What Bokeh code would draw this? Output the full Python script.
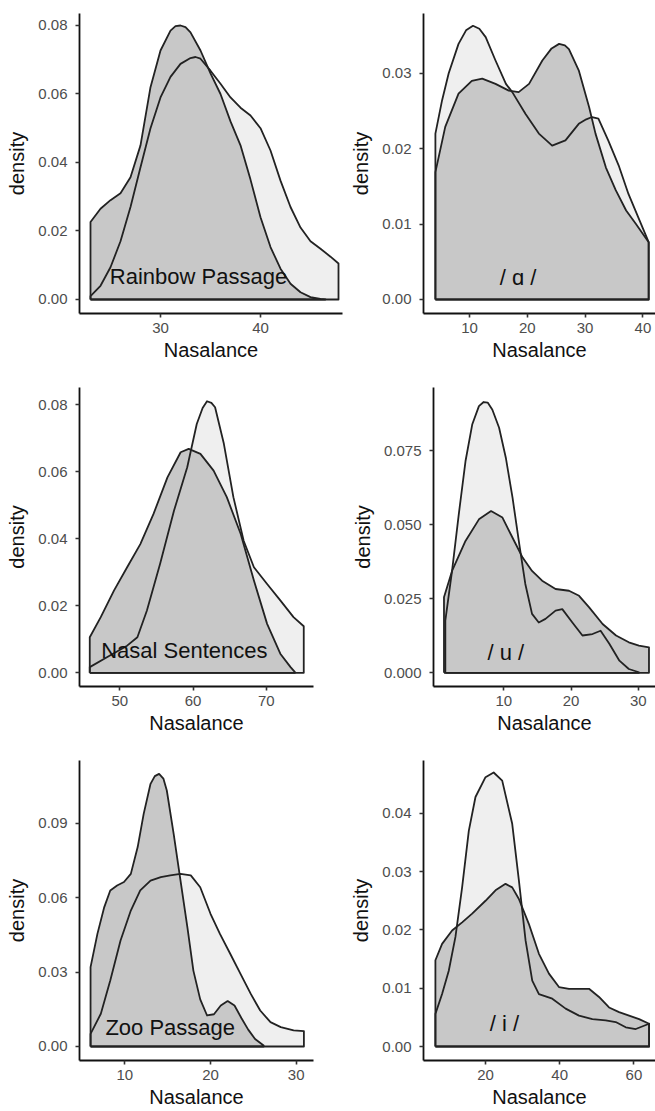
from bokeh.plotting import figure
from bokeh.models import Range1d, FixedTicker, PrintfTickFormatter, ColumnDataSource
from bokeh.layouts import column, row
from bokeh.embed import file_html
from bokeh.resources import INLINE
from bokeh.core.properties import value

FONT = "Liberation Sans"
LIGHT = "#efefef"
DARK = "#c8c8c8"
EDGE = "#222222"

# ---------------- data ----------------
# Rainbow Passage
rainbow_light_x = [23, 24, 25, 26, 27, 28, 29, 30, 31, 32, 33, 33.5, 34, 35, 36, 37, 38, 39, 40, 41, 42, 43, 44, 45, 46, 47, 47.8]
rainbow_light_y = [0.001, 0.004, 0.0094, 0.017, 0.027, 0.0386, 0.050, 0.059, 0.065, 0.0688, 0.0705, 0.0708, 0.0703, 0.0668, 0.063,
                   0.059, 0.056, 0.0537, 0.050, 0.0435, 0.0347, 0.027, 0.021, 0.017, 0.0148, 0.0125, 0.0105]
rainbow_dark_x = [23, 24, 25, 26, 27, 28, 29, 30, 31, 31.5, 32, 32.5, 33, 34, 35, 36, 37, 38, 39, 40, 41, 42, 43, 44, 45, 46, 46.5]
rainbow_dark_y = [0.0226, 0.0265, 0.029, 0.031, 0.0357, 0.045, 0.062, 0.0727, 0.0785, 0.0798, 0.080, 0.0795, 0.078, 0.0727, 0.066, 0.060,
                  0.052, 0.045, 0.035, 0.024, 0.0153, 0.009, 0.0046, 0.0021, 0.0007, 0.0002, 0.0]

# / ɑ /
a_light_x = [4.1, 5.25, 6.4, 8.1, 9.4, 10.6, 11.7, 12.8, 14.5, 16.3, 17.4, 19.7, 22.0, 24.3, 26.6, 28.9, 30.2, 31.2, 32.3, 34.0, 35.8, 37.5, 39.2, 41.0]
a_light_y = [0.022, 0.0264, 0.030, 0.0339, 0.0357, 0.0363, 0.0359, 0.0348, 0.0317, 0.0286, 0.0275, 0.0246, 0.022, 0.0204, 0.0211, 0.0233,
             0.0239, 0.0242, 0.024, 0.0211, 0.0178, 0.014, 0.0109, 0.0076]
a_dark_x = [4.1, 5.8, 8.1, 10.4, 12.2, 14.5, 16.8, 18.5, 20.3, 22.6, 24.2, 25.5, 26.5, 27.2, 28.9, 30.7, 31.8, 33.6, 35.3, 37.1, 38.8, 41.0]
a_dark_y = [0.0169, 0.0229, 0.0273, 0.029, 0.0293, 0.0286, 0.0277, 0.0275, 0.0286, 0.0317, 0.0333, 0.0339, 0.0337, 0.0332, 0.0304, 0.0255,
            0.022, 0.0175, 0.0145, 0.0118, 0.0100, 0.0076]

# Nasal Sentences
nasal_light_x = [45.9, 48.3, 51.0, 52.4, 53.7, 55.5, 57.4, 59.2, 60.5, 61.3, 61.9, 62.5, 63.0, 64.2, 65.5, 66.9, 68.3, 70.1, 71.9, 73.7, 75.1]
nasal_light_y = [0.0017, 0.0047, 0.0081, 0.0106, 0.0186, 0.0325, 0.0484, 0.0613, 0.0742, 0.0790, 0.081, 0.0805, 0.0792, 0.0683, 0.0524,
                 0.0394, 0.0315, 0.0265, 0.0216, 0.0166, 0.0139]
nasal_dark_x = [45.9, 47.4, 49.2, 51.0, 52.8, 54.6, 56.5, 58.3, 59.4, 61.0, 62.8, 64.6, 66.5, 68.3, 70.1, 71.9, 73.3, 73.9]
nasal_dark_y = [0.0106, 0.0166, 0.0245, 0.0315, 0.0384, 0.0474, 0.0583, 0.0658, 0.0668, 0.0653, 0.0603, 0.0524, 0.0414,
                0.0275, 0.0146, 0.0057, 0.0017, 0.0002]

# / u /
u_light_x = [1.3, 2.3, 3.3, 4.3, 5.3, 6.3, 7.0, 7.6, 8.3, 9.3, 10.3, 11.3, 12.3, 13.2, 14.2, 15.2, 16.2, 17.7, 18.7, 20.2, 21.7,
             23.2, 24.4, 25.7, 27.2, 28.6, 30.1]
u_light_y = [0.0176, 0.0344, 0.0535, 0.0714, 0.0838, 0.090, 0.0914, 0.0912, 0.0888, 0.0827, 0.0726, 0.0591, 0.0434, 0.030, 0.0199,
             0.017, 0.0182, 0.021, 0.0215, 0.017, 0.0126, 0.0131, 0.0142, 0.0098, 0.0041, 0.0013, 0.0002]
u_dark_x = [1.1, 2.3, 4.3, 6.3, 8.1, 9.8, 11.3, 12.8, 14.2, 15.7, 17.7, 19.7, 21.2, 22.7, 24.7, 26.7, 28.6, 30.1, 31.6]
u_dark_y = [0.0255, 0.0344, 0.0445, 0.0518, 0.0546, 0.0524, 0.0456, 0.0389, 0.0344, 0.0311, 0.0283, 0.0277, 0.026, 0.0221,
            0.0165, 0.0126, 0.0103, 0.0092, 0.0086]

# Zoo Passage
zoo_light_x = [6.0, 7.2, 8.3, 9.5, 10.7, 11.8, 13.0, 14.2, 15.3, 16.5, 17.7, 18.8, 20.0, 21.1, 22.3, 23.5, 24.7, 25.8, 27.0,
               28.2, 29.7, 30.9]
zoo_light_y = [0.0051, 0.0132, 0.0266, 0.0427, 0.0548, 0.0629, 0.0669, 0.0683, 0.069, 0.0696, 0.069, 0.0642, 0.0535, 0.0454,
               0.0374, 0.0293, 0.0212, 0.0145, 0.0098, 0.0078, 0.0065, 0.0062]
zoo_dark_x = [6.0, 6.8, 7.6, 8.3, 9.1, 9.9, 10.7, 11.5, 12.2, 13.0, 13.5, 14.0, 14.5, 14.9, 15.7, 16.5, 17.3, 18.0, 18.8, 19.6, 20.4,
              21.2, 22.0, 22.8, 23.6, 24.4, 25.2, 26.2]
zoo_dark_y = [0.032, 0.0454, 0.0562, 0.0629, 0.0649, 0.0663, 0.0696, 0.0804, 0.0938, 0.1059, 0.1090, 0.1099, 0.1080, 0.1032, 0.0857, 0.0669,
              0.0481, 0.0306, 0.019, 0.0125, 0.013, 0.0165, 0.0183, 0.0165, 0.0115, 0.0068, 0.003, 0.0004]

# / i /
i_light_x = [6.5, 8.3, 10.1, 11.9, 13.7, 15.5, 17.3, 20.0, 22.2, 24.5, 27.2, 29.0, 30.8, 32.6, 34.4, 38.0, 41.6, 45.2, 48.8,
             52.4, 55.1, 57.8, 60.5, 64.1]
i_light_y = [0.0056, 0.009, 0.013, 0.0188, 0.0273, 0.037, 0.0428, 0.0462, 0.047, 0.0456, 0.0382, 0.0285, 0.0182, 0.0113,
             0.009, 0.0082, 0.0065, 0.0053, 0.0047, 0.0045, 0.0042, 0.0033, 0.003, 0.0039]
i_dark_x = [6.5, 8.3, 11.0, 13.7, 16.4, 20.0, 22.7, 25.4, 27.2, 29.0, 31.7, 34.4, 37.1, 39.8, 42.5, 45.2, 47.9, 50.6, 53.3,
            56.0, 58.7, 61.4, 64.1]
i_dark_y = [0.0148, 0.0176, 0.0199, 0.0213, 0.0228, 0.025, 0.0268, 0.0279, 0.0273, 0.0253, 0.021, 0.0159, 0.0125, 0.0102,
            0.0099, 0.0099, 0.0099, 0.0085, 0.0067, 0.0059, 0.0053, 0.0047, 0.0039]

# panel labels and their positions (data coordinates)
labels = ["Rainbow Passage", "/ \u0251 /", "Nasal Sentences", "/ u /", "Zoo Passage", "/ i /"]
label_x = [33.8, 18.4, 58.8, 10.3, 15.3, 25.1]
label_y = [0.0067, 0.0029, 0.0068, 0.0069, 0.0075, 0.0040]

# tick values
rainbow_xticks = [30, 40]
rainbow_yticks = [0.0, 0.02, 0.04, 0.06, 0.08]
a_xticks = [10, 20, 30, 40]
a_yticks = [0.0, 0.01, 0.02, 0.03]
nasal_xticks = [50, 60, 70]
nasal_yticks = [0.0, 0.02, 0.04, 0.06, 0.08]
u_xticks = [10, 20, 30]
u_yticks = [0.0, 0.025, 0.05, 0.075]
zoo_xticks = [10, 20, 30]
zoo_yticks = [0.0, 0.03, 0.06, 0.09]
i_xticks = [20, 40, 60]
i_yticks = [0.0, 0.01, 0.02, 0.03, 0.04]


def closed(xs, ys):
    return [xs[0]] + list(xs) + [xs[-1]], [0.0] + list(ys) + [0.0]


def panel(lx, ly, dx, dy, idx, xr, yr, xticks, yticks, yfmt, w, h, bl, br, bt, bb):
    p = figure(width=w, height=h, x_range=Range1d(*xr), y_range=Range1d(*yr),
               output_backend="svg", toolbar_location=None,
               min_border_left=bl, min_border_right=br, min_border_top=bt, min_border_bottom=bb)
    p.xgrid.grid_line_color = None
    p.ygrid.grid_line_color = None
    p.outline_line_color = None
    p.background_fill_color = "white"
    p.border_fill_color = "white"

    lxs, lys = closed(lx, ly)
    dxs, dys = closed(dx, dy)
    p.patch(lxs, lys, fill_color=LIGHT, line_color=None)
    p.patch(dxs, dys, fill_color=DARK, line_color=None)
    p.line(lxs + [lxs[0]], lys + [lys[0]], line_color=EDGE, line_width=1.8, line_join="round")
    p.line(dxs + [dxs[0]], dys + [dys[0]], line_color=EDGE, line_width=1.8, line_join="round")

    src = ColumnDataSource(dict(x=[label_x[idx]], y=[label_y[idx]], t=[labels[idx]]))
    p.text(x="x", y="y", text="t", source=src, text_font=value(FONT), text_font_size="22px",
           text_color="#111111", text_align="center", text_baseline="middle")

    p.xaxis.ticker = FixedTicker(ticks=xticks)
    p.yaxis.ticker = FixedTicker(ticks=yticks)
    p.yaxis.formatter = PrintfTickFormatter(format=yfmt)
    p.xaxis.formatter = PrintfTickFormatter(format="%d")
    p.xaxis.axis_label = "Nasalance"
    p.yaxis.axis_label = "density"
    for ax in (p.xaxis[0], p.yaxis[0]):
        ax.axis_line_color = "#111111"
        ax.axis_line_width = 1.8
        ax.major_tick_line_color = "#333333"
        ax.major_tick_line_width = 1.6
        ax.major_tick_out = 4
        ax.major_tick_in = 0
        ax.minor_tick_line_color = None
        ax.major_label_text_font = FONT
        ax.major_label_text_font_size = "15px"
        ax.major_label_text_color = "#4d4d4d"
        ax.axis_label_text_font = FONT
        ax.axis_label_text_font_size = "20px"
        ax.axis_label_text_color = "#111111"
        ax.axis_label_text_font_style = "normal"
    p.yaxis.major_label_standoff = 8
    p.yaxis.axis_label_standoff = 7
    p.xaxis.major_label_standoff = 5
    p.xaxis.axis_label_standoff = 3
    return p


LW, RW = 345, 310

p1 = panel(rainbow_light_x, rainbow_light_y, rainbow_dark_x, rainbow_dark_y, 0,
           (21.9, 48.2), (-0.00409, 0.0835), rainbow_xticks, rainbow_yticks, "%.2f",
           LW, 370, 79, 3, 13, 57)
p2 = panel(a_light_x, a_light_y, a_dark_x, a_dark_y, 1,
           (2.04, 42.18), (-0.001857, 0.03793), a_xticks, a_yticks, "%.2f",
           RW, 370, 78, 0, 13, 57)
p3 = panel(nasal_light_x, nasal_light_y, nasal_dark_x, nasal_dark_y, 2,
           (44.5, 76.43), (-0.00408, 0.0851), nasal_xticks, nasal_yticks, "%.2f",
           LW, 370, 79, 32, 17, 54)
p4 = panel(u_light_x, u_light_y, u_dark_x, u_dark_y, 3,
           (-0.46, 32.57), (-0.00461, 0.0963), u_xticks, u_yticks, "%.3f",
           RW, 370, 88, 0, 17, 54)
p5 = panel(zoo_light_x, zoo_light_y, zoo_dark_x, zoo_dark_y, 4,
           (4.71, 32.02), (-0.00565, 0.1153), zoo_xticks, zoo_yticks, "%.2f",
           LW, 371, 79, 32, 20, 51)
p6 = panel(i_light_x, i_light_y, i_dark_x, i_dark_y, 5,
           (3.29, 65.82), (-0.0024, 0.04906), i_xticks, i_yticks, "%.2f",
           RW, 371, 78, 0, 20, 51)

layout = column(row(p1, p2), row(p3, p4), row(p5, p6))
open("out.html", "w").write(file_html(layout, INLINE))
